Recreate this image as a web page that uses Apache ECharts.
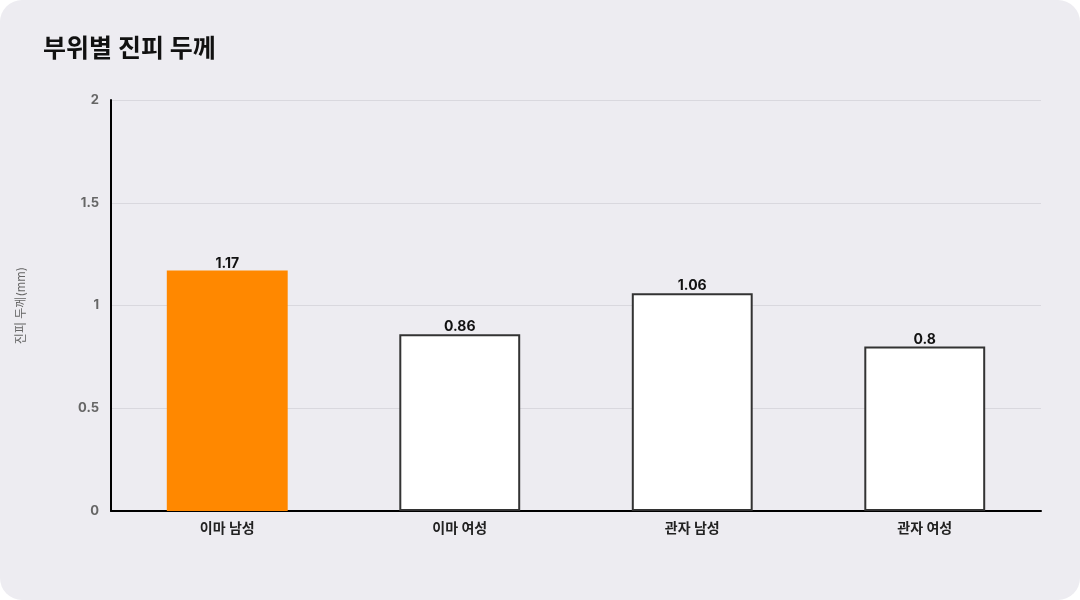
<!DOCTYPE html>
<html>
<head>
<meta charset="utf-8">
<script src="https://cdn.jsdelivr.net/npm/echarts@6/dist/echarts.min.js"></script>
<style>
  html, body { margin: 0; padding: 0; background: #ffffff; }
  .card {
    width: 1080px; height: 600px;
    background: #edecf1;
    border-radius: 22px;
    overflow: hidden;
  }
  .chart { width: 1080px; height: 600px; }
</style>
</head>
<body>
<div class="card"><div class="chart"></div></div>
<script>
const categories = ['이마 남성', '이마 여성', '관자 남성', '관자 여성'];
const thickness = [1.17, 0.86, 1.06, 0.8];
const highlightIndex = 0;

const font = 'Inter, "Noto Sans CJK KR", sans-serif';
const chart = echarts.init(document.querySelector('.chart'));

chart.setOption({
    textStyle: { fontFamily: font },
    title: {
        text: '부위별 진피 두께',
        left: 38,
        top: 32,
        textStyle: { fontSize: 25, fontWeight: 'bold', color: '#111', fontFamily: font },
    },
    grid: { left: 111, right: 39, top: 100, bottom: 89 },
    xAxis: {
        type: 'category',
        data: categories,
        axisLine: { lineStyle: { color: '#000', width: 2 } },
        axisTick: { show: false },
        axisLabel: { color: '#222', fontSize: 14, fontWeight: 'bold', margin: 11 },
    },
    yAxis: {
        type: 'value',
        min: 0,
        max: 2,
        interval: 0.5,
        name: '진피 두께(mm)',
        nameLocation: 'middle',
        nameGap: 84,
        nameTextStyle: { color: '#666', fontSize: 12 },
        axisLine: { show: true, lineStyle: { color: '#000', width: 2 } },
        axisTick: { show: false },
        axisLabel: { color: '#666', fontSize: 13, fontWeight: 'bold', margin: 12 },
        splitLine: { lineStyle: { color: '#d9d8de', width: 1 } },
    },
    series: [
        {
            type: 'bar',
            barWidth: '52%',
            data: thickness.map((v, i) => ({
                value: v,
                itemStyle: i === highlightIndex
                    ? { color: '#ff8800', borderWidth: 0 }
                    : { color: '#ffffff', borderColor: '#333', borderWidth: 2 },
            })),
            label: {
                show: true,
                position: 'top',
                distance: 0,
                color: '#111',
                fontSize: 14,
                fontWeight: 'bold',
            },
        },
    ],
});
</script>
</body>
</html>
